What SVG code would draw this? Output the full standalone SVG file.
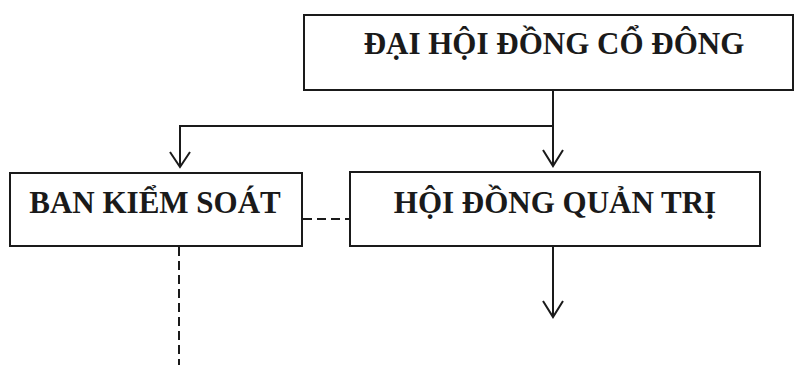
<svg xmlns="http://www.w3.org/2000/svg" width="798" height="365" viewBox="0 0 798 365">
<style>
.box{fill:#fff;stroke:#1a1a1a;stroke-width:2}
.t{font-family:"Liberation Serif","Times New Roman",serif;font-weight:bold;font-size:31px;fill:#1a1a1a;text-anchor:middle}
.ln{fill:none;stroke:#1a1a1a;stroke-width:2}
.dash{fill:none;stroke:#1a1a1a;stroke-width:2;stroke-dasharray:9 5}
</style>
<rect width="798" height="365" fill="#fff"/>
<g id="connectors">
<polyline class="ln" points="553,90 553,126 180,126 180,167"/>
<polyline class="ln" points="170,152 180,167 190,152"/>
<line class="ln" x1="553" y1="126" x2="553" y2="166"/>
<polyline class="ln" points="543,150 553,166 563,150"/>
<line class="dash" x1="303" y1="219" x2="350" y2="219"/>
<line class="dash" x1="179" y1="247" x2="179" y2="365"/>
<line class="ln" x1="553" y1="246" x2="553" y2="317"/>
<polyline class="ln" points="543,301 553,317 563,301"/>
</g>
<g id="dhdcd">
<rect class="box" x="304" y="15" width="489" height="75"/>
<text class="t" x="554" y="54">ĐẠI HỘI ĐỒNG CỔ ĐÔNG</text>
</g>
<g id="bks">
<rect class="box" x="10" y="173" width="292" height="73"/>
<text class="t" x="155" y="213">BAN KIỂM SOÁT</text>
</g>
<g id="hdqt">
<rect class="box" x="350" y="172" width="410" height="74"/>
<text class="t" x="555" y="213">HỘI ĐỒNG QUẢN TRỊ</text>
</g>
</svg>
